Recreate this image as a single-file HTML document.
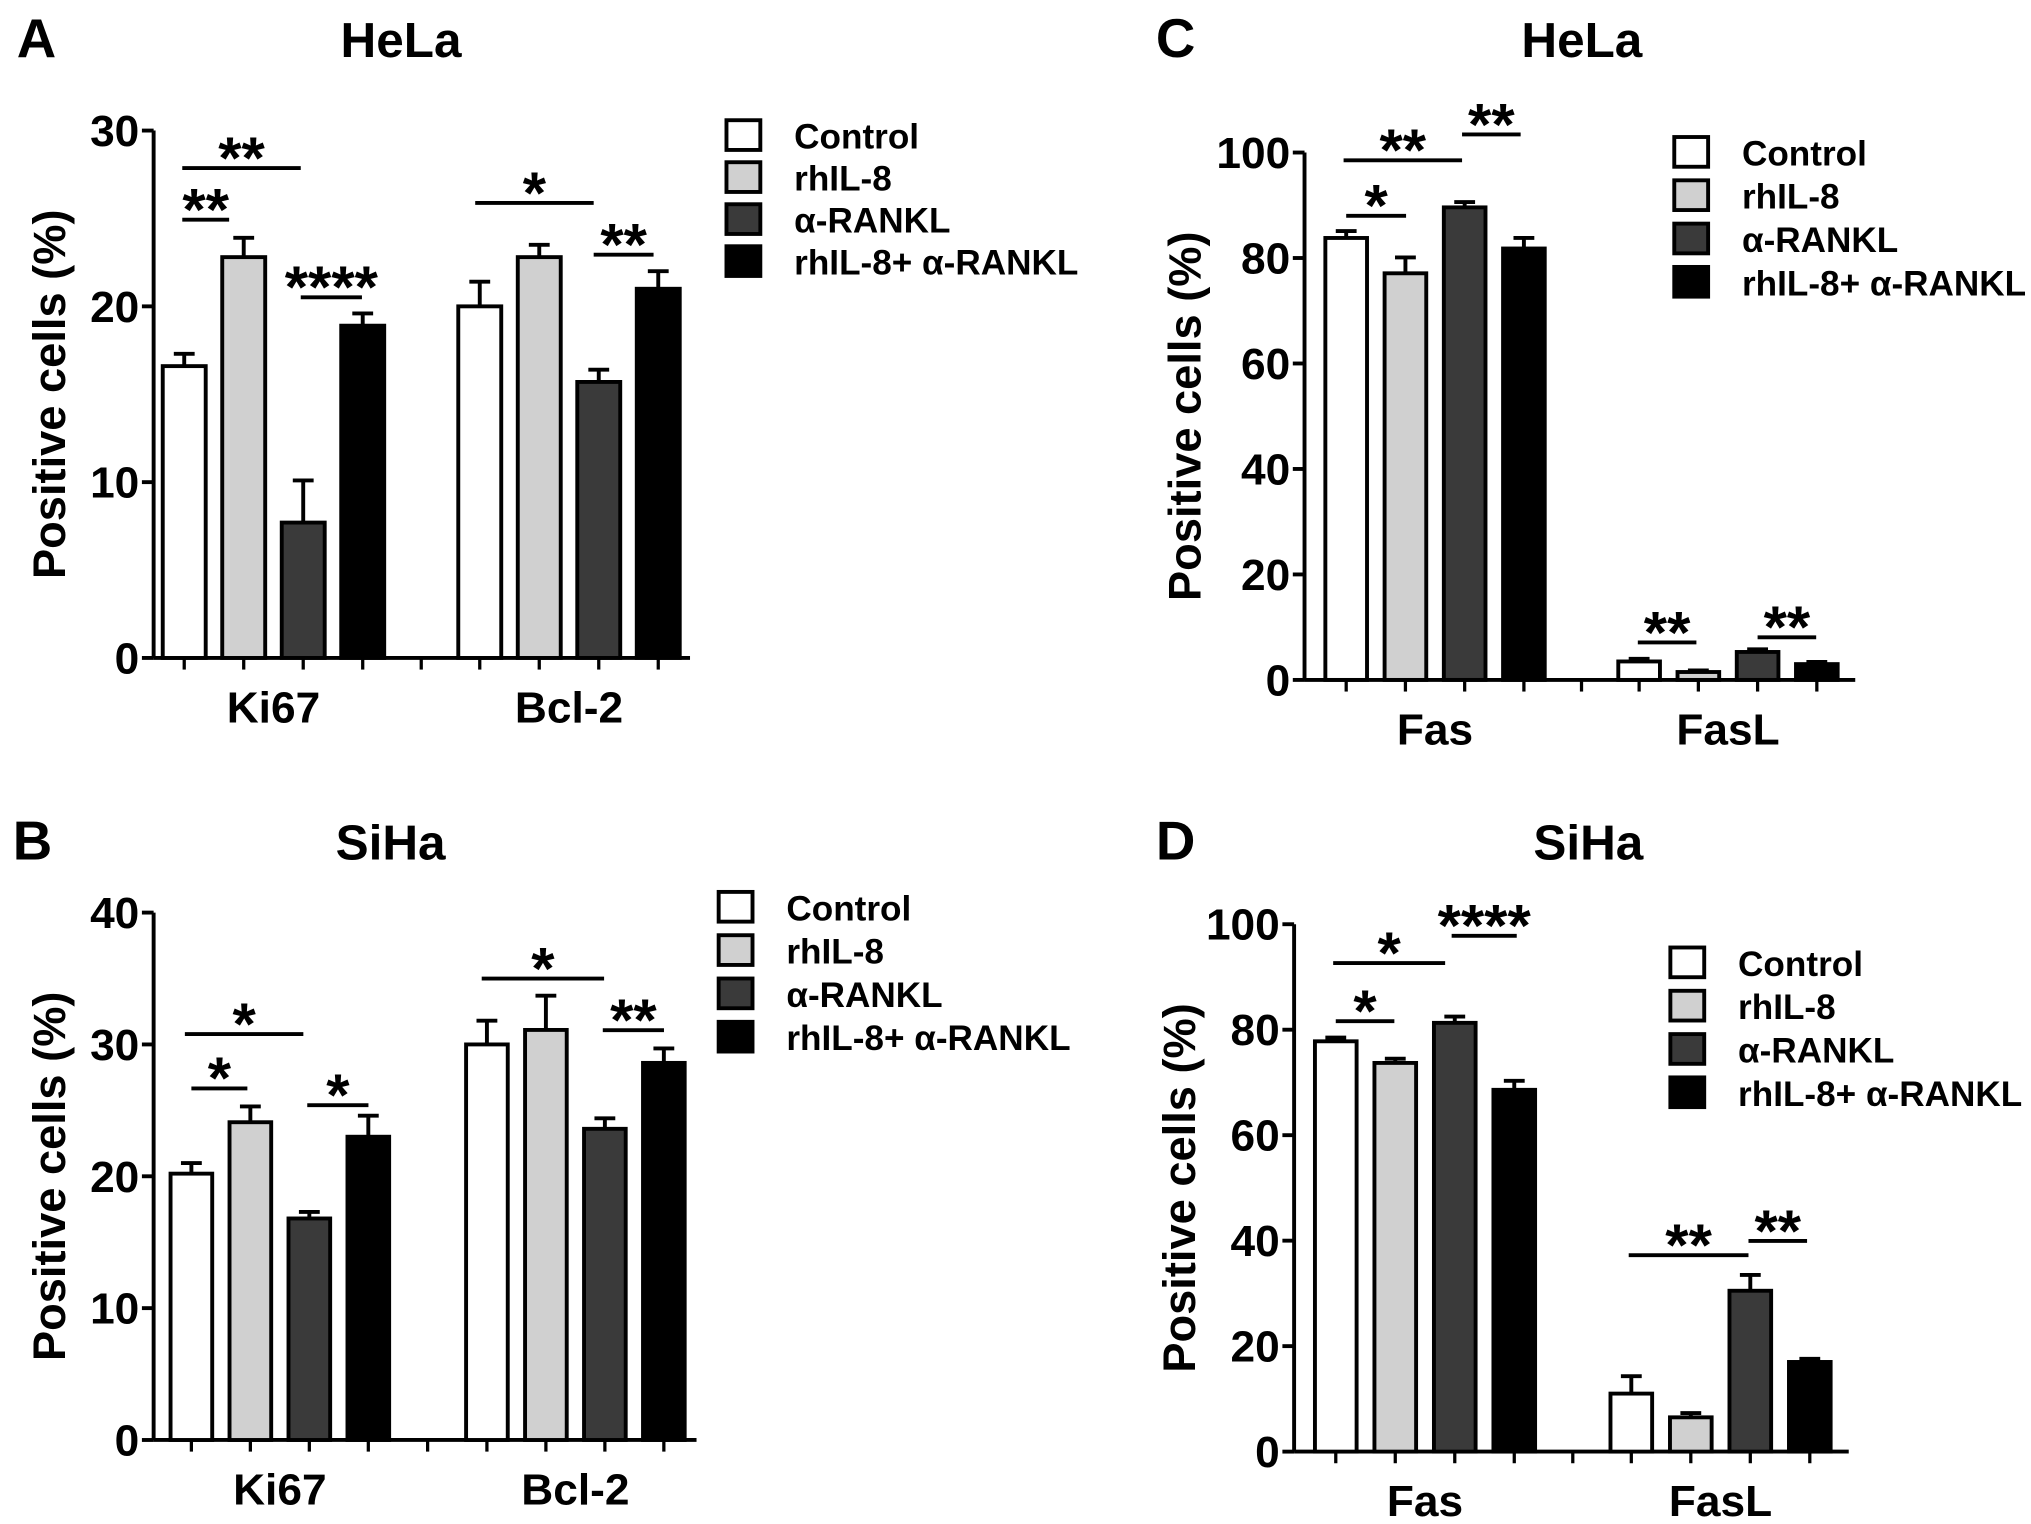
<!DOCTYPE html>
<html><head><meta charset="utf-8"><style>
html,body{margin:0;padding:0;background:#fff;}
svg{display:block;font-family:"Liberation Sans",Arial,sans-serif;font-weight:bold;}
</style></head><body>
<svg id="fig" width="2031" height="1524" viewBox="0 0 1560 1179" preserveAspectRatio="none" xmlns="http://www.w3.org/2000/svg"></svg>
<script>
const seriesNames = ["Control", " rhIL-8", "α-RANKL", "rhIL-8+ α-RANKL"];
const seriesFill = ["#ffffff", "#d0d0d0", "#3a3a3a", "#000000"];

const catsA = ["Ki67", "Bcl-2"];
const valsA = [[16.6, 22.8, 7.7, 18.9], [20.0, 22.8, 15.7, 21.0]];
const errsA = [[0.7, 1.1, 2.4, 0.7], [1.4, 0.7, 0.7, 1.0]];
const ticksA = [0, 10, 20, 30];

const catsB = ["Ki67", "Bcl-2"];
const valsB = [[20.2, 24.1, 16.8, 23.0], [30.0, 31.1, 23.6, 28.6]];
const errsB = [[0.8, 1.2, 0.5, 1.6], [1.8, 2.6, 0.8, 1.1]];
const ticksB = [0, 10, 20, 30, 40];

const catsC = ["Fas", "FasL"];
const valsC = [[83.8, 77.1, 89.6, 81.8], [3.5, 1.5, 5.3, 3.0]];
const errsC = [[1.3, 3.0, 1.0, 2.0], [0.5, 0.3, 0.5, 0.4]];
const ticksC = [0, 20, 40, 60, 80, 100];

const catsD = ["Fas", "FasL"];
const valsD = [[77.8, 73.7, 81.3, 68.6], [11.0, 6.5, 30.5, 17.0]];
const errsD = [[0.7, 0.8, 1.2, 1.7], [3.3, 0.8, 3.0, 0.6]];
const ticksD = [0, 20, 40, 60, 80, 100];

const NS = "http://www.w3.org/2000/svg";
const svg = document.getElementById("fig");
function mk(tag, attrs, parent, txt) {
  const e = document.createElementNS(NS, tag);
  for (const k in attrs) e.setAttribute(k, attrs[k]);
  if (txt !== undefined) e.textContent = txt;
  (parent || svg).appendChild(e);
  return e;
}

function panel(p) {
  const g = mk("g", {});
  
  
  const yScale = v => p.y0 - (v / p.ymax) * (p.y0 - p.ytop);
  const barX = (gi, si) => p.groupX[gi] + si * p.step;

  const lt = mk("text", {x: p.letterX, y: p.titleY, "font-size": 42, "text-anchor": "middle"}, g, p.id);
  
  
  const tt = mk("text", {x: p.titleX, y: p.titleY, "font-size": 38, "text-anchor": "middle"}, g, p.title);
  
  

  const yl = mk("text", {x: 0, y: 0, "font-size": 35, "text-anchor": "middle",
    transform: `translate(${p.ylabX},${(p.y0 + p.ytop) / 2}) rotate(-90)`}, g, "Positive cells (%)");
  
  

  const ya = mk("line", {x1: p.ax, y1: p.y0, x2: p.ax, y2: p.ytop, stroke: "#000", "stroke-width": 3}, g);
  
  
  const xa = mk("line", {x1: p.ax, y1: p.y0, x2: p.axEnd, y2: p.y0, stroke: "#000", "stroke-width": 3}, g);
  
  
  p.ticks.forEach(t => {
    const y = yScale(t);
    mk("line", {x1: p.ax - 9, y1: y, x2: p.ax, y2: y, stroke: "#000", "stroke-width": 3}, g);
    const tl = mk("text", {x: p.ax - 11, y: y + 12, "font-size": 34, "text-anchor": "end"}, g, String(t));
    
    
  });
  const xt = [];
  p.cats.forEach((c, gi) => { for (let si = 0; si < 4; si++) xt.push(barX(gi, si) + p.bw / 2); });
  xt.push((barX(0, 3) + barX(1, 0)) / 2 + p.bw / 2);
  xt.forEach(x => mk("line", {x1: x, y1: p.y0, x2: x, y2: p.y0 + 9, stroke: "#000", "stroke-width": 2.5}, g));

  p.cats.forEach((c, gi) => {
    const cx = (barX(gi, 0) + barX(gi, 3) + p.bw) / 2;
    const cl = mk("text", {x: cx, y: p.y0 + 50, "font-size": 34, "text-anchor": "middle"}, g, c);
    
    
    p.vals[gi].forEach((v, si) => {
      const x = barX(gi, si), yt = yScale(v), cxb = x + p.bw / 2;
      const ye = yScale(v + p.errs[gi][si]);
      mk("line", {x1: cxb, y1: yt, x2: cxb, y2: ye, stroke: "#000", "stroke-width": 3}, g);
      mk("line", {x1: cxb - 8, y1: ye, x2: cxb + 8, y2: ye, stroke: "#000", "stroke-width": 3}, g);
      const r = mk("rect", {x: x, y: yt, width: p.bw, height: p.y0 - yt, fill: seriesFill[si], stroke: "#000", "stroke-width": 3}, g);
      
      
    });
  });

  p.sig.forEach(s => {
    mk("line", {x1: s[0], y1: s[2], x2: s[1], y2: s[2], stroke: "#000", "stroke-width": 3}, g);
    const st = mk("text", {x: (s[0] + s[1]) / 2, y: s[2] + 8, "font-size": 46, "text-anchor": "middle"}, g, s[3]);
    
    
  });

  seriesNames.forEach((n, i) => {
    const y = p.legY + i * p.legStep;
    const lb = mk("rect", {x: p.legX, y: y, width: 26, height: 23, fill: seriesFill[i], stroke: "#000", "stroke-width": 3}, g);
    
    
    const ltx = mk("text", {x: p.legX + 52, y: y + 22, "font-size": 27, "xml:space": "preserve"}, g, n);
    
    
  });
}

panel({id: "A", title: "HeLa", titleX: 308, titleY: 44, letterX: 28, ylabX: 50,
  ax: 118, y0: 509, ytop: 101, ymax: 30, ticks: ticksA, axEnd: 530,
  groupX: [125, 352], bw: 33, step: 45.7, cats: catsA, vals: valsA, errs: errsA,
  sig: [[140, 231, 130, "**"], [140, 176, 170, "**"], [231, 278, 230, "****"], [365, 456, 157, "*"], [456, 502, 197, "**"]],
  legX: 558, legY: 93, legStep: 32.5});

panel({id: "B", title: "SiHa", titleX: 300, titleY: 665, letterX: 25, ylabX: 50,
  ax: 118, y0: 1114, ytop: 706, ymax: 40, ticks: ticksB, axEnd: 535,
  groupX: [131, 358], bw: 32, step: 45.3, cats: catsB, vals: valsB, errs: errsB,
  sig: [[142, 233, 800, "*"], [147, 190, 842, "*"], [236, 283, 855, "*"], [370, 464, 757, "*"], [463, 510, 797, "**"]],
  legX: 552, legY: 690, legStep: 33.5});

panel({id: "C", title: "HeLa", titleX: 1215, titleY: 44, letterX: 903, ylabX: 922,
  ax: 1002, y0: 526, ytop: 118, ymax: 100, ticks: ticksC, axEnd: 1425,
  groupX: [1018, 1243], bw: 32, step: 45.5, cats: catsC, vals: valsC, errs: errsC,
  sig: [[1032, 1123, 124, "**"], [1034, 1080, 167, "*"], [1123, 1168, 104, "**"], [1258, 1303, 497, "**"], [1350, 1395, 493, "**"]],
  legX: 1286, legY: 106, legStep: 33.5});

panel({id: "D", title: "SiHa", titleX: 1220, titleY: 665, letterX: 903, ylabX: 918,
  ax: 994, y0: 1123, ytop: 715, ymax: 100, ticks: ticksD, axEnd: 1420,
  groupX: [1010, 1237], bw: 32, step: 45.7, cats: catsD, vals: valsD, errs: errsD,
  sig: [[1024, 1110, 745, "*"], [1026, 1071, 790, "*"], [1115, 1165, 724, "****"], [1251, 1343, 971, "**"], [1343, 1388, 960, "**"]],
  legX: 1283, legY: 733, legStep: 33.5});
</script>
</body></html>
